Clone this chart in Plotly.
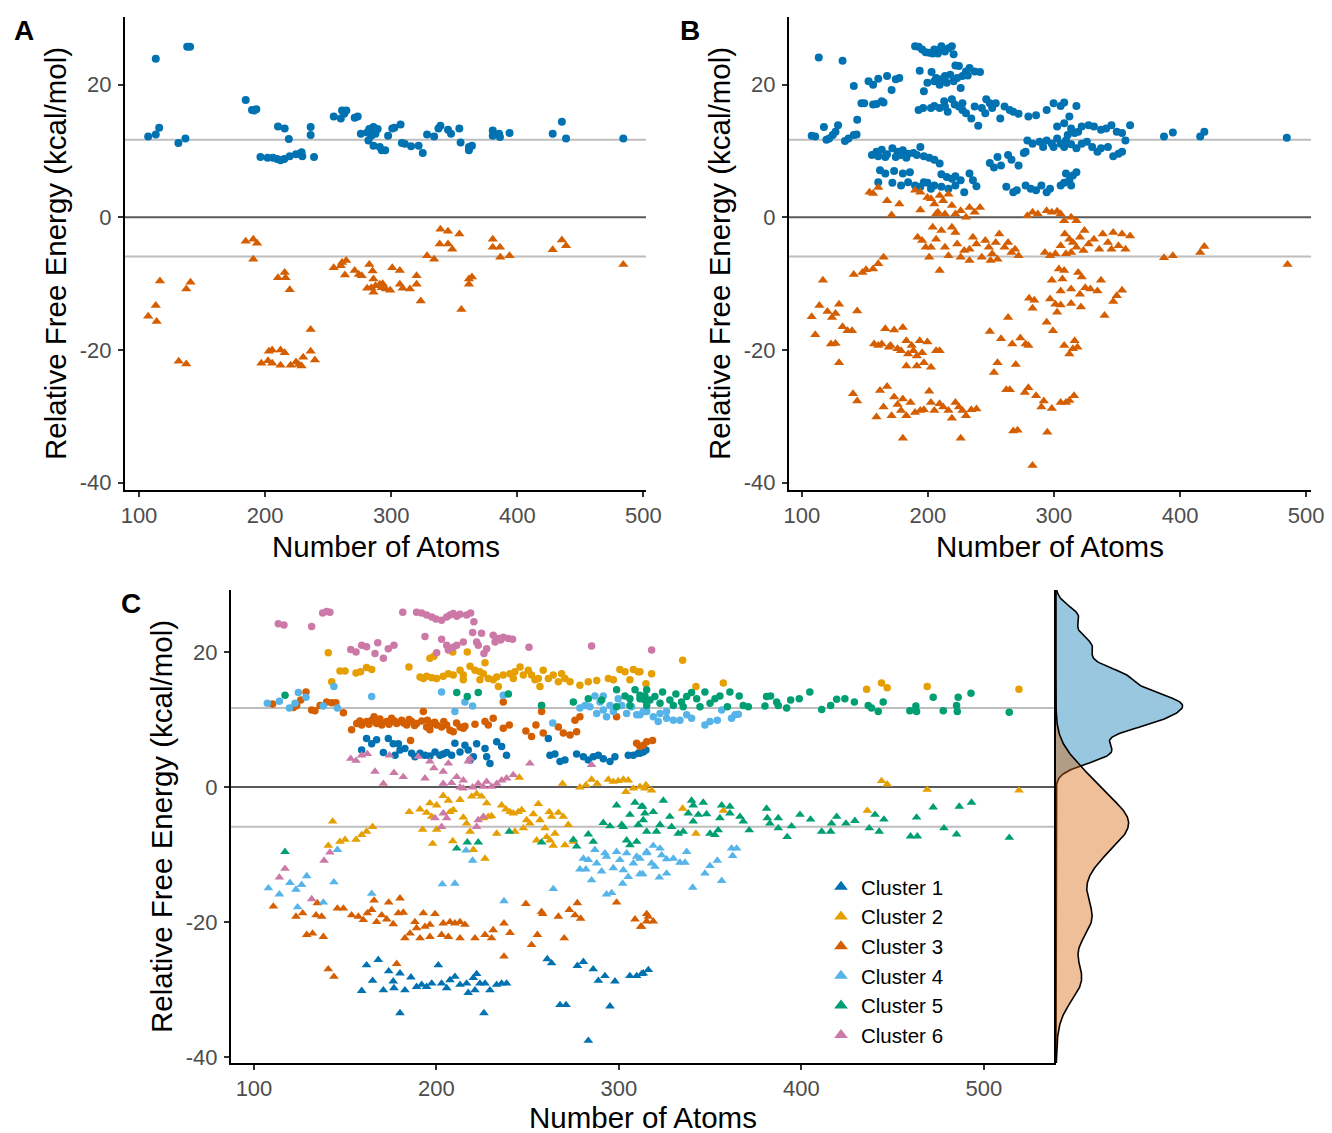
import numpy as np
import plotly.graph_objects as go

# ---------------- data ----------------
# Panel A: conformers (circles) and complexes (triangles)
A_CIRC_X = [107.3, 113.3, 116, 113.3, 131.2, 136.8, 138.2, 140.5, 184.6, 189.6, 191.3, 193, 196.3, 202, 206.2, 209.5,
            212.2, 215.2, 219.5, 224.5, 227.8, 229.5, 228.9, 238.8, 210.2, 215.5, 218.8, 236.1, 236.1, 254.4, 260, 261,
            264.4, 262.7, 271, 273.4, 275.9, 280.9, 282.6, 284.2, 285.9, 287.5, 289.2, 281.9, 285.9, 290.9, 292.5,
            295.2, 297.5, 300.8, 302.5, 307.4, 308.4, 310.7, 315.7, 321.7, 325, 328.4, 334, 337.4, 339, 345, 347.4,
            354, 355, 361.6, 361.6, 364, 380.5, 380.5, 385.5, 386.2, 393.8, 428, 435.3, 438.6, 484]
A_CIRC_Y = [12.2, 12.5, 13.5, 23.9, 11.2, 11.9, 25.7, 25.7, 17.7, 16.2, 16.1, 16.3, 9.1, 9.0, 9.0, 8.8,
            8.6, 8.8, 9.2, 9.5, 9.6, 9.2, 9.8, 9.1, 13.7, 13.4, 11.8, 13.6, 12.4, 15.2, 14.9, 16.1,
            16.1, 15.6, 15, 15.2, 12.6, 12.8, 13.3, 12.3, 13.6, 12.6, 13.3, 11.6, 10.8, 10.6, 10.1,
            10.1, 12.3, 13.4, 13.5, 14.0, 11.2, 11.1, 10.7, 10.8, 9.7, 12.5, 12.2, 13.4, 13.8, 13.2, 12.6,
            13.4, 11.3, 10.6, 10.1, 10.8, 13.1, 12.3, 12.6, 12.1, 12.7, 12.6, 14.4, 11.9, 11.9]
A_TRI_X = [107.3, 113.3, 114, 116.6, 137.5, 140.8, 131.5, 137.5, 184.6, 190.6, 193.6, 190.6, 210.2, 216.2, 215.5,
           219.5, 197, 202.3, 205.6, 203, 205.6, 212.2, 215.5, 212.2, 220.2, 224.5, 226.8, 228.9, 230.2, 236.1,
           236.1, 239.5, 254.4, 260, 261, 264.3, 263.3, 271, 274.3, 276.6, 282.6, 285.2, 285.9, 280.9, 284.2,
           287.5, 285.9, 290.9, 292.5, 295.8, 299.2, 293.2, 300.8, 306.8, 306.8, 309.1, 314.8, 320.1, 320.1,
           323.4, 328.4, 334, 339, 345, 354, 338.4, 345, 348.4, 355.6, 361.6, 361.6, 364, 380.5, 380.5, 386.2,
           386.5, 393.8, 428, 435.3, 438.6, 484]
A_TRI_Y = [-14.9, -13.3, -15.7, -9.6, -10.8, -9.8, -21.7, -22.1, -3.6, -3.3, -3.9, -6.3, -9.1, -9.1, -8.3,
           -10.9, -22, -21.6, -22, -20.2, -20, -20, -20.4, -22.3, -22.3, -21.8, -22.2, -22.4, -21.1, -20.2,
           -16.9, -21.5, -7.6, -7.3, -6.8, -6.5, -8.7, -8.0, -8.6, -8.8, -7.1, -8.1, -9.3, -10.7, -10.6,
           -10.3, -11.3, -10.1, -10.6, -10.8, -11.0, -10.0, -7.6, -8.0, -10.1, -10.7, -10.8, -8.8, -10.1,
           -12.6, -5.8, -6.3, -1.8, -2.1, -2.5, -4.0, -4.0, -4.8, -13.9, -10.1, -9.3, -9.0, -3.3, -4.5, -4.5,
           -6.0, -5.8, -4.9, -3.4, -4.3, -7.1]

# Panel B
B_CIRC = [
    (189.8, 25.8), (192.6, 25.7), (195.4, 25.3), (198.2, 24.9), (201, 24.8), (203.8, 24.7), (206.5, 24.9),
    (209.3, 25.3), (210.7, 25.8), (213.5, 25.0), (216.3, 25.5), (219, 25.8), (220.4, 24.6), (207.9, 24.7),
    (205.1, 25.3), (113.4, 24.1), (132.3, 23.6),
    (193.5, 22.1), (202.9, 21.9), (206.5, 21.0), (210.7, 20.8), (213.5, 21.3), (214.9, 20.3), (209.3, 20.0),
    (205.1, 20.5), (221.8, 22.9), (224.6, 22.8), (227.4, 21.3), (230.2, 22.0), (233, 22.5), (237.1, 22.0),
    (241.3, 21.9), (226, 19.5), (220.4, 20.5), (223.2, 21.0), (217.7, 21.5), (199.6, 20.3), (196.8, 19.0),
    (231.6, 21.4),
    (141.2, 19.8), (152.9, 20.5), (156.5, 20.0), (160.6, 20.9), (167.6, 21.3), (171.2, 19.2), (174.5, 20.8),
    (177.3, 21.0), (147.3, 17.2), (149.5, 17.2), (156.5, 17.0), (159.2, 17.1), (163.4, 17.5), (164.8, 17.3),
    (192.6, 16.2), (196.2, 16.5), (205.1, 16.8), (209.3, 16.5), (212.9, 17.5), (215.7, 15.9), (219, 17.8),
    (221.3, 17.0), (224.6, 16.7), (227.4, 16.2), (230.2, 15.7), (234.4, 14.9), (237.1, 16.7), (239.9, 13.8),
    (242.7, 16.5), (246.3, 17.8), (249.1, 17.2), (251, 16.5), (253.8, 17.2), (257.4, 14.9), (260.8, 16.7),
    (264.9, 16.2), (267.7, 15.9), (271.9, 15.6), (279.7, 15.2), (285.8, 15.4), (213.5, 16.7), (202.4, 16.5),
    (227.4, 17.2), (245.5, 15.7),
    (107.8, 12.3), (110.6, 12.2), (117.5, 13.6), (119.5, 11.7), (121.7, 11.9), (124.5, 12.4), (126.7, 12.9),
    (128.7, 13.9), (134.2, 11.5), (137, 11.9), (141.2, 12.4), (143.4, 12.5), (143.9, 14.7),
    (294.2, 16.2), (299.7, 17.2), (305.3, 16.8), (308.1, 17.3), (312.2, 15.2), (317.8, 16.8), (302.5, 13.7),
    (308.1, 14.2), (313.6, 13.4), (319.2, 12.9), (322, 13.7), (327.5, 13.9), (331.7, 13.7), (337.3, 13.2),
    (341.4, 13.4), (345.6, 13.9), (349.8, 12.9), (354, 12.7), (356.7, 11.6), (360.4, 13.9), (278.9, 11.6),
    (283, 11.1), (288.6, 11.4), (294.2, 11.6), (298.3, 11.1), (302.5, 11.9), (305.3, 11.1), (309.5, 11.6),
    (313.6, 11.0), (317.8, 10.4), (322, 11.1), (326.1, 11.4), (330.3, 10.6), (334.5, 9.9), (337.3, 10.4),
    (342.8, 10.6), (347, 9.2), (351.2, 9.6), (354, 9.9), (277.5, 9.9), (308.1, 10.6), (310.9, 12.4),
    (316.4, 12.7), (299.7, 10.6), (291.4, 10.6),
    (387.3, 12.2), (394.3, 12.8), (416, 12.2), (419.3, 12.9), (484.7, 12.0),
    (155.6, 9.4), (159.2, 9.9), (163.4, 10.2), (167.6, 9.5), (171.8, 10.4), (175.9, 9.9), (180.1, 10.1),
    (184.3, 9.6), (188.5, 9.7), (194, 10.6), (196.8, 9.2), (201, 9.0), (205.1, 8.7), (209.3, 8.1),
    (166.2, 9.1), (174.5, 9.1), (178.7, 9.4), (182.9, 9.0), (160.6, 9.2), (191.2, 9.4),
    (162, 7.1), (166.2, 6.6), (173.2, 7.0), (180.1, 6.6), (185.7, 6.8), (160.6, 5.3), (171.8, 5.2),
    (178.7, 4.8), (184.3, 5.3), (189.8, 4.8), (194, 4.6), (199.6, 5.2), (205.1, 4.8), (210.7, 6.5),
    (214.9, 6.1), (219, 5.8), (221.8, 6.2), (226, 5.6), (228.8, 3.8), (233, 6.6), (235.7, 5.6), (238.5, 4.7),
    (210.7, 4.6), (216.3, 4.3), (221.8, 4.8), (202.4, 4.3), (196.8, 5.3),
    (249.1, 8.2), (252.4, 7.5), (255.2, 9.1), (258, 7.8), (263.6, 9.4), (266.3, 8.7), (271.9, 7.8), (276.1, 9.7),
    (262.2, 4.6), (267.7, 3.8), (270.5, 4.1), (277.5, 4.8), (281.6, 4.3), (285.8, 4.1), (290, 4.8),
    (294.2, 3.8), (296.9, 4.3), (305.3, 4.8), (308.1, 5.2), (312.2, 5.6), (315, 6.3), (317.8, 6.8),
    (309.5, 6.6), (313.6, 4.8),
]
B_TRI = [
    (153.7, 3.8), (156.5, 3.6), (160.6, 4.5), (167.6, 2.5), (177.3, 2.0), (171.2, 0.35), (194, 1.1),
    (189.8, 4.1), (194, 3.8), (199.6, 3.0), (205.1, 2.0), (209.3, 3.3), (212.1, 2.5), (207.9, 0.75),
    (213.5, 0.5), (219, 1.8), (221.8, 0.5), (226, 1.0), (230.2, 0), (233, 1.5), (237.1, 0.75), (241.3, 1.5),
    (216.3, 3.5), (202.4, 2.8), (206.5, 0.5),
    (278.9, 0.25), (283, 0.75), (287.2, 0.5), (294.2, 1.0), (298.3, 0.75), (302.5, 0.9), (305.3, 0.5),
    (308.1, -0.5), (313.6, 0), (317.8, -0.5), (324.2, -2.0),
    (191.8, -3.0), (195.4, -3.5), (198.2, -4.5), (201, -6.0), (203.8, -1.5), (206.5, -3.3), (210.7, -2.0),
    (213.5, -4.5), (216.3, -5.8), (219, -1.5), (221.8, -2.3), (223.2, -4.0), (226, -6.0), (228.8, -5.0),
    (233, -6.5), (235.7, -3.0), (238.5, -4.0), (242.7, -6.0), (245.5, -3.5), (248.3, -4.5), (251, -5.5),
    (253.8, -3.8), (256.6, -2.5), (260.8, -4.5), (263.6, -3.8), (266.3, -5.3), (269.1, -4.8), (271.9, -5.8),
    (209.3, -8.0), (202.4, -4.5), (233, -4.8), (249.7, -6.5), (255.2, -6.3),
    (292.8, -5.3), (296.9, -5.8), (301.1, -5.5), (305.3, -4.3), (308.6, -2.5), (312.2, -3.3), (315, -3.8),
    (317.8, -4.5), (320.6, -3.0), (323.4, -5.0), (327.5, -4.0), (331.7, -3.3), (335.9, -4.8), (338.7, -2.5),
    (342.8, -3.8), (347, -2.3), (351.2, -4.3), (354, -2.5), (356.7, -4.8), (360.4, -2.8), (309.5, -5.5),
    (313.6, -5.3), (345.6, -4.8),
    (387.3, -6.1), (394.3, -5.8), (416, -5.3), (419.3, -4.4), (485.3, -7.1),
    (141.2, -8.6), (148.1, -8.3), (150.9, -7.9), (156.5, -7.8), (160.6, -7.0), (164.8, -6.0),
    (280.3, -12.2), (284.4, -12.5), (283, -13.7), (296.9, -12.3), (301.1, -13.1), (305.3, -13.2),
    (302.5, -14.3), (294.2, -15.8), (299.2, -17.1), (303.9, -7.8), (308.1, -8.0), (306.7, -9.3),
    (313.6, -10.8), (319.2, -8.3), (322, -9.0), (320.6, -11.6), (324.8, -10.6), (328.9, -10.8),
    (334.5, -11.1), (337.3, -9.5), (313.6, -13.0), (321.4, -13.5), (347, -12.7), (349.8, -11.8),
    (354, -11.0), (340.1, -14.8), (298.3, -9.5), (305.3, -11.1),
    (116.7, -9.5), (107.8, -15.0), (113.9, -13.3), (120.3, -14.2), (123.9, -15.1), (126.7, -14.5),
    (129.5, -13.1), (132.3, -16.5), (136.2, -17.1), (139.8, -17.1), (143.9, -14.1), (110.6, -17.7),
    (123.1, -19.1), (126.7, -19.0), (129.5, -21.9),
    (157.3, -19.1), (160.6, -19.3), (163.4, -19.1), (166.2, -16.8), (169, -19.6), (173.2, -17.0),
    (175.9, -19.8), (180.1, -16.6), (178.7, -20.1), (182.9, -18.6), (184.3, -20.6), (188.5, -20.1),
    (191.2, -20.9), (193.5, -18.6), (195.4, -20.4), (199.6, -18.8), (202.4, -22.6), (206.5, -20.1),
    (209.3, -20.1), (196.8, -21.9), (191.2, -22.4), (182.9, -22.4), (187.1, -19.3), (170.4, -19.3),
    (249.1, -17.2), (258, -18.3), (263.6, -15.1), (266.9, -19.1), (273.3, -18.2), (277.5, -19.1),
    (279.7, -19.3), (255.2, -21.9), (252.4, -23.4), (269.7, -22.2), (308.1, -19.3), (312.2, -20.6),
    (316.4, -18.6), (318.6, -19.6), (315, -19.8),
    (140.6, -26.6), (143.9, -27.7), (162, -26.1), (167.6, -25.5), (164.8, -28.6), (159.2, -30.1),
    (171.2, -29.9), (173.2, -27.1), (175.9, -28.2), (180.1, -27.4), (178.7, -29.1), (182.9, -29.9),
    (186.2, -27.9), (189.8, -29.4), (194, -29.1), (196.8, -29.0), (201, -26.2), (202.4, -27.9),
    (205.1, -29.1), (209.3, -28.1), (212.1, -28.6), (216.3, -29.1), (219, -30.3), (221.8, -27.9),
    (224.6, -28.6), (227.4, -29.1), (230.2, -29.9), (234.4, -29.0), (238.5, -28.9), (180.1, -33.3),
    (226, -33.3),
    (262.2, -26.0), (265, -26.0), (276.9, -26.4), (279.7, -25.7), (285.8, -26.9), (290, -28.6),
    (291.9, -27.7), (298.3, -28.8), (305.3, -27.9), (309.5, -27.9), (312.2, -27.6), (315.9, -26.9),
    (267.7, -32.2), (271.1, -32.1), (294.7, -32.4), (283, -37.4),
]

# Panel C: six clusters, circles and triangles
C1_CIRC = [(161.7, 7.2), (164.5, 6.4), (167.2, 7.0), (170.9, 5.1), (173.6, 7.2), (176.3, 6.4), (179.1, 6.4),
           (177.3, 4.7), (180, 5.5), (182.7, 5.7), (186.4, 5.0), (188.2, 4.5), (191, 5.0), (193.7, 4.7),
           (196.4, 4.6), (199.2, 5.2), (201.9, 4.7), (203.7, 4.9), (205.6, 5.1), (208.3, 4.7), (210.1, 6.5),
           (212.9, 5.2), (215.6, 6.2), (217.4, 5.5), (222, 6.4), (220.2, 4.5), (218.4, 4.0), (226.6, 5.7),
           (227.5, 4.5), (233, 6.7), (235.7, 6.0), (238.4, 4.7), (159, 5.5), (261.3, 7.2), (262.2, 4.7),
           (264.9, 4.9), (267.7, 3.8), (270.4, 4.0), (276.8, 4.9), (280.5, 4.5), (283.2, 4.0), (285.9, 4.5),
           (288.7, 4.7), (291.4, 4.2), (295.1, 3.8), (297.8, 4.5), (305.1, 4.7), (307.9, 4.7), (310.6, 5.0),
           (313.3, 5.2), (229.3, 3.5), (311.5, 5.0), (314.8, 5.5)]
C2_CIRC = [(140.7, 19.9), (142.6, 15.6), (147.1, 17.2), (149.9, 17.2), (155.9, 16.9), (158.4, 17.1), (161.7, 17.7),
           (164.5, 17.4), (184.9, 17.8), (196.4, 19.1), (198.6, 19.4), (208.9, 20.0), (216.9, 20.0), (226.6, 18.4),
           (191, 16.3), (192.8, 16.1), (194.6, 16.4), (197.4, 16.2), (200.1, 16.1), (203.7, 16.4), (206.5, 16.8),
           (209.2, 16.6), (212.9, 17.3), (214.7, 16.6), (218.4, 17.9), (221.1, 17.3), (223.8, 17.1), (225.7, 16.8),
           (228.4, 16.1), (231.1, 15.9), (233.9, 14.9), (233, 16.3), (236.6, 16.6), (240.3, 16.8), (243, 17.1),
           (245.8, 17.8), (247.6, 16.6), (250.3, 17.3), (252.1, 16.6), (254, 15.9), (256.7, 14.9), (258.5, 17.3),
           (261.3, 16.1), (264, 16.6), (266.8, 15.6), (268.6, 16.8), (270.4, 16.1), (273.2, 15.6), (278.6, 15.1),
           (283.2, 15.6), (287.8, 15.8), (294.2, 16.1), (296.9, 15.9), (300.5, 17.4), (303.3, 17.1), (306, 15.9),
           (307.9, 17.4), (310.6, 17.1), (214.7, 15.9), (223.8, 15.9), (242.1, 16.1), (255.8, 16.1),
           (311.5, 17.1), (314.8, 15.3), (317.9, 16.8), (334.9, 18.8), (342.2, 14.9), (357.2, 15.4),
           (435.7, 14.5), (443.9, 15.4), (447, 14.7), (468.9, 14.9), (519.2, 14.5)]
C3_CIRC = [(110.2, 12.3), (121.6, 11.8), (123.4, 12.1), (125.6, 12.9), (128.5, 14.1), (131.6, 11.4), (133.4, 11.3),
           (136.2, 12.1), (139.8, 12.6), (142.6, 12.5), (144.9, 12.5), (149, 11.0), (153.5, 8.5), (156.3, 9.4),
           (159, 9.2), (161.7, 9.7), (164.5, 9.9), (165.8, 10.4), (167.2, 9.4), (170, 9.2), (172.7, 9.7),
           (175.4, 10.2), (178.2, 9.4), (180.9, 9.9), (183.7, 9.2), (186.4, 9.7), (189.1, 9.4), (191.9, 9.8),
           (192.8, 11.2), (194.6, 8.9), (197.4, 9.4), (200.1, 9.2), (202.8, 8.9), (205.6, 9.2), (207.4, 8.4),
           (209.2, 8.2), (212.9, 8.9), (215.6, 9.0), (221.1, 9.3), (226.6, 9.7), (228.4, 9.2), (231.1, 10.2),
           (236.6, 8.7), (239.9, 9.2), (249, 8.3), (252.1, 7.5), (254.5, 9.2), (258.5, 8.0), (266.8, 8.9),
           (269.5, 8.0), (273.2, 7.7), (276.8, 8.2), (275.9, 9.9), (278.6, 10.4), (298.7, 10.4), (309.7, 6.5),
           (313.3, 6.2), (236.6, 12.6), (257.6, 11.2), (257.6, 12.1), (185.8, 6.9), (196.4, 8.5), (214.7, 8.7),
           (315.2, 6.7), (318.4, 6.9), (311.5, 6.0), (158, 9.8), (163, 9.3), (169, 10.1), (174, 9.3), (177, 9.8),
           (182, 9.5), (185, 10.0), (188, 9.1), (195, 9.9), (199, 9.6), (204, 9.7), (211, 9.5)]
C4_CIRC = [(107.3, 12.4), (113.9, 12.7), (119.4, 11.7), (122.5, 12.4), (124.3, 14.0), (128.5, 13.3), (138, 12.0),
           (143.8, 14.9), (145.7, 11.7), (164.5, 13.4), (202.8, 14.1), (210.1, 11.2), (215.6, 12.6), (219.8, 12.0),
           (236.6, 13.6), (263.7, 9.5), (278.6, 11.7), (281.4, 12.1), (284.1, 11.9), (286.8, 13.5), (289.6, 12.6),
           (291.4, 11.4), (293.2, 10.4), (295.1, 12.1), (296.9, 11.2), (299.6, 13.1), (301.5, 12.1), (304.2, 10.9),
           (306.9, 11.9), (309.7, 10.7), (313.3, 11.2), (287.8, 10.9), (291.4, 13.5),
           (311.5, 10.7), (315.2, 11.2), (318.8, 10.4), (322.5, 10.9), (326.1, 10.2), (329.8, 9.9), (333.4, 9.9),
           (337.1, 10.7), (339.8, 10.2), (347.1, 9.2), (349.9, 9.7), (353.9, 9.9), (356.3, 11.4), (361.7, 10.2),
           (363.6, 10.7), (365.4, 10.8), (326.1, 11.2), (321.5, 9.7)]
C5_CIRC = [(117, 13.6), (211.1, 14.0), (216.9, 13.4), (222.9, 14.0), (239.4, 13.8), (257.6, 12.1), (275, 12.6),
           (283.2, 13.1), (290.5, 12.9), (298.7, 14.4), (303.3, 13.5), (306, 13.1), (308.8, 14.4), (311.5, 13.6),
           (314.2, 12.9), (315.2, 14.4), (298.7, 11.9), (306, 12.1),
           (311.5, 13.1), (314.2, 13.5), (317, 12.9), (319.7, 13.4), (323.9, 14.1), (327.9, 12.9), (331.2, 13.8),
           (334.3, 12.6), (337.1, 13.4), (339.8, 14.0), (342.6, 13.1), (347.1, 14.1), (349.9, 12.4), (352.6, 13.1),
           (355.3, 13.5), (359.4, 11.9), (360.8, 14.1), (365.9, 13.5), (368.1, 12.1), (370.9, 11.9), (380, 12.0),
           (380.9, 13.4), (383.1, 13.5), (386.4, 12.6), (387.3, 12.1), (391.9, 11.7), (394.1, 12.9), (398.8, 13.1),
           (404.6, 14.1), (411.1, 11.5), (416, 12.1), (419.3, 13.0), (423.8, 13.1), (429, 12.6), (436.6, 12.1),
           (438.4, 11.7), (442.1, 11.2), (444.8, 12.6), (459.4, 11.3), (462.7, 12.0), (463.1, 11.2), (472.2, 13.3),
           (477.7, 11.3), (485, 12.1), (485.4, 11.2), (485.9, 13.3), (492.9, 13.9), (513.9, 11.1), (315.2, 12.1),
           (322.5, 12.4), (329.8, 12.1), (344.4, 11.9), (335.2, 11.9)]
C6_CIRC = [(113.3, 24.2), (116.4, 24.0), (131.6, 23.8), (137.6, 25.8), (139.8, 26.0), (141.6, 25.9), (181.5, 25.9),
           (189.1, 25.9), (191.9, 25.8), (194.6, 25.5), (197.4, 25.2), (199.7, 24.9), (202.8, 24.7), (205.6, 25.2),
           (207.4, 25.5), (209.2, 25.7), (211.1, 25.3), (212.9, 25.6), (216.5, 25.5), (218.7, 25.8), (220.5, 24.5),
           (219.8, 22.9), (224.7, 22.8), (231.1, 22.5), (233.9, 22.0), (236.6, 22.2), (239.4, 22.0), (241.7, 21.9),
           (193.7, 22.3), (202.8, 21.9), (205.6, 21.0), (209.2, 20.7), (211.1, 21.0), (214.7, 21.5), (222, 21.5),
           (222.9, 21.0), (226, 19.8), (227.5, 20.5), (232.1, 21.5), (235.2, 21.8), (153, 20.4), (155.9, 20.0),
           (159, 21.0), (161.7, 20.8), (166.3, 19.8), (167.8, 21.4), (170.9, 19.1), (173.6, 20.5), (176.7, 21.0),
           (200.1, 19.9), (250.7, 20.7), (285, 20.9), (206.5, 20.3), (317.9, 20.3)]

C1_TRI = [(159, -30.2), (161.7, -26.4), (165, -28.7), (168.1, -25.6), (170.9, -30.1), (173.8, -27.3), (176.3, -28.8),
          (176.7, -29.8), (180, -27.6), (180, -33.5), (182.7, -30.1), (186, -28.2), (189.1, -29.6), (191.9, -29.3),
          (194.6, -29.6), (197.4, -29.1), (201, -26.4), (202.8, -29.1), (205.6, -29.8), (207.4, -28.6),
          (210.1, -28.1), (212.9, -29.3), (216.5, -29.1), (217.4, -30.5), (220.2, -28.3), (222, -27.7),
          (221.1, -30.1), (223.8, -29.1), (226.6, -29.1), (229.3, -30.1), (233, -29.3), (235.7, -29.1),
          (238.4, -29.1), (226, -33.5), (260.7, -25.5), (263.1, -26.1), (267.7, -32.3), (271, -32.3),
          (277.2, -26.5), (280.5, -25.9), (285.9, -27.0), (288.7, -28.7), (292.3, -28.0), (295.1, -32.5),
          (297.8, -28.8), (283.2, -37.6), (306, -28.0), (309.7, -28.0), (313.3, -27.6), (316.1, -27.1),
          (312.4, -27.7)]
C2_TRI = [(269.1, 0.5), (278.6, -0.05), (281.9, 0.3), (285, 1.1), (288.1, 0.5), (294.2, 1.1), (296.9, 0.8),
          (299.6, 0.9), (302.4, 1.1), (305.1, 1.0), (303.8, -0.7), (307.9, -0.2), (311.5, 0.05), (314.2, -0.2),
          (245.4, 1.4), (314.8, 0.3), (317.9, -0.5), (443.9, 0.9), (447, 0.4), (468.9, -0.4), (519.2, -0.5),
          (334.9, -3.2), (357.2, -3.5), (342.2, -6.9), (436.1, -3.5),
          (185.1, -3.7), (191, -3.3), (192.4, -6.3), (194.6, -3.8), (196.4, -2.4), (197.4, -4.4), (200.1, -2.7),
          (200.1, -6.3), (203.7, -1.3), (206.5, -2.0), (207.4, -3.7), (209.2, -3.4), (212.9, -1.9), (214.7, -4.5),
          (216.5, -5.4), (218.4, -6.6), (219.3, -1.4), (222, -1.0), (224.7, -1.4), (225.7, -4.6), (227.5, -2.4),
          (228.4, -4.4), (230.2, -4.3), (233, -6.9), (235.7, -2.7), (238.1, -3.3), (240.3, -3.7), (242.1, -3.9),
          (244.8, -3.7), (246.7, -3.4), (249.4, -4.9), (251.2, -5.4), (253.1, -4.0), (255.8, -2.5), (256.7, -4.9),
          (259.5, -6.1), (261.8, -3.7), (263.1, -4.4), (264.9, -6.9), (266.8, -3.8), (269.5, -4.4), (272.2, -5.6),
          (275, -8.1), (270.4, -8.6), (264, -8.7), (262.2, -7.9), (254.9, -7.9), (243, -6.6), (143.1, -5.1),
          (140.7, -8.7), (147.1, -8.1), (149.9, -7.8), (155.9, -7.8), (159, -7.1), (161.7, -6.6), (165, -5.9),
          (197.9, -8.4), (208.9, -8.0), (220.2, -9.3), (226.6, -10.6), (260.4, -7.4), (247.6, -6.1)]
C3_TRI = [(110.6, -17.7), (123, -19.2), (126.7, -18.7), (128.9, -21.9), (132.1, -21.7), (134.7, -17.2), (134, -19.0),
          (137.1, -19.2), (138, -22.2), (140.7, -27.0), (143.8, -28.1), (145.7, -18.0), (149, -18.0), (153.5, -19.0),
          (157.2, -19.2), (159.9, -19.7), (162.1, -18.7), (164.5, -18.2), (165.8, -16.8), (167.2, -20.0),
          (170, -19.0), (172.7, -19.6), (173.8, -17.1), (176.3, -20.3), (179.1, -18.7), (180, -16.5),
          (181.8, -18.6), (182.7, -22.4), (185.5, -21.7), (188.2, -20.0), (189.1, -20.9), (191, -22.4),
          (192.8, -18.7), (193.7, -20.7), (196.4, -20.4), (196.4, -22.2), (199.2, -18.8), (202.8, -21.9),
          (203.7, -20.2), (206.5, -22.2), (207.4, -20.0), (210.1, -20.2), (212.9, -20.0), (212.9, -22.4),
          (215.6, -20.4), (221.1, -22.4), (226.6, -21.9), (230.2, -22.4), (231.1, -21.2), (237, -20.2),
          (240.3, -21.6), (237, -25.1), (178.2, -26.2), (249, -17.3), (252.1, -23.4), (255.3, -21.9),
          (257.6, -18.5), (258.2, -18.8), (266.8, -19.2), (270, -22.4), (272.8, -18.2), (275.9, -19.0),
          (277.2, -17.2), (279, -19.5), (298.7, -17.1), (308.8, -19.6), (311.9, -20.7), (315.2, -18.8),
          (312.4, -20.7), (316.1, -19.2), (318.8, -19.9), (315.2, -19.9)]
C4_TRI = [(107.9, -15.0), (113.9, -15.9), (119.7, -14.2), (123, -15.2), (126.1, -14.5), (128.9, -13.2), (123.9, -17.8),
          (138, -17.1), (143.8, -14.1), (145.7, -9.3), (164.5, -15.8), (203.2, -14.4), (210.1, -14.3), (216.2, -9.4),
          (219.8, -10.9), (237, -16.9), (264, -15.1), (278.6, -12.2), (280.5, -10.6), (283.2, -10.8), (285, -13.8),
          (286.8, -9.3), (287.8, -11.3), (290.5, -12.5), (292.3, -9.8), (293.2, -15.9), (296, -15.7),
          (296.9, -12.0), (298.7, -9.6), (300.5, -10.8), (302.4, -12.3), (302, -14.3), (304.2, -9.8),
          (305.1, -13.3), (307.9, -11.3), (309.7, -10.3), (313, -12.9), (315.2, -9.6), (293.2, -10.3),
          (281.9, -12.2), (311.5, -10.6), (315.2, -9.8), (317.9, -11.3), (319.7, -11.8), (322.5, -9.1),
          (323.4, -10.1), (326.1, -10.7), (329.8, -10.6), (333.4, -11.2), (336.2, -11.2), (337.1, -9.6),
          (322.1, -13.4), (326.1, -12.8), (340.4, -14.9), (347.1, -12.8), (349.9, -11.7), (353.9, -10.9),
          (356.3, -13.9), (361.7, -9.1), (364.5, -9.1), (362.3, -10.2), (311.5, -12.9), (318.8, -8.7)]
C5_TRI = [(117, -9.6), (211.1, -9.1), (216.9, -8.2), (222.9, -8.2), (239.9, -6.6), (257.6, -8.2), (275, -7.8),
          (276.8, -8.8), (283.2, -7.0), (285.9, -8.1), (291.4, -5.3), (295.1, -5.8), (298.7, -2.7), (301.5, -5.6),
          (304.2, -7.9), (306, -4.1), (308.8, -2.3), (310.6, -5.6), (313, -2.9), (314.2, -3.9), (302.4, -5.9),
          (306, -8.6), (309.7, -8.1), (312.4, -2.9), (318.8, -3.7), (324.3, -2.0), (313.3, -4.9), (320.6, -6.6),
          (327.9, -4.4), (328.9, -5.9), (332.5, -6.9), (335.2, -6.6), (338, -3.9), (339.8, -2.0), (340.7, -2.7),
          (343.5, -4.1), (346.2, -2.3), (348, -4.0), (349.9, -6.9), (352.6, -7.1), (354.4, -6.4), (355.3, -4.6),
          (356.3, -2.7), (360.8, -2.9), (360.8, -3.9), (366.3, -4.4), (368.1, -5.1), (371.4, -6.4), (380.9, -3.2),
          (381.3, -4.6), (382.7, -5.4), (387.3, -4.6), (387.3, -6.1), (392.2, -7.4), (394.6, -5.8), (399.2, -4.1),
          (405, -4.8), (411.1, -6.6), (416, -6.6), (416.5, -5.4), (419.3, -4.4), (424.4, -5.4), (429.3, -5.0),
          (437.2, -6.1), (440.3, -4.1), (442.6, -6.6), (445.2, -4.8), (459.8, -7.3), (463.1, -4.5), (463.5, -7.3),
          (472.2, -3.0), (478.1, -6.1), (485, -7.0), (486.5, -2.9), (493.2, -2.3), (513.9, -7.5), (340.7, -5.1),
          (322.5, -5.6), (315.2, -6.6)]
C6_TRI = [(153, 4.2), (155.9, 3.9), (159, 4.7), (162.1, 4.9), (166.3, 2.3), (170.9, 0.5), (176.7, 2.1), (181.8, 1.5),
          (174.2, 4.7), (190, 4.5), (193.7, 1.3), (196.4, 3.8), (198.6, 2.8), (203.7, 2.3), (206.5, 3.5),
          (208.3, 0.6), (211.1, 1.5), (212.9, -0.05), (214.7, 1.0), (217.4, 3.8), (219.8, -0.05), (222.9, 0.5),
          (225.7, 0.05), (227.5, 0.8), (230.2, 0.05), (233, 0.5), (235.7, 1.0), (238.4, 1.3), (242.1, 1.8),
          (251.2, 3.5), (285, 3.3), (218.4, 4.2), (203.7, 0.5), (214.7, -0.2), (203.7, -3.9), (199.2, -4.6),
          (205.6, -4.6), (222, -5.9), (222.9, -4.9), (225.7, -4.4), (202.8, -5.9), (141.6, -9.7), (138.4, -10.9),
          (117, -12.1), (113.9, -13.4), (131.6, -16.6)]

CLUSTER_NAMES = ["Cluster 1", "Cluster 2", "Cluster 3", "Cluster 4", "Cluster 5", "Cluster 6"]
CLUSTER_COLORS = ["#0072B2", "#E69F00", "#D55E00", "#56B4E9", "#009E73", "#CC79A7"]
C_CIRCLES = [C1_CIRC, C2_CIRC, C3_CIRC, C4_CIRC, C5_CIRC, C6_CIRC]
C_TRIANGLES = [C1_TRI, C2_TRI, C3_TRI, C4_TRI, C5_TRI, C6_TRI]

ZERO_LINE = 0.0
REF_LINES = [11.7, -5.9]
X_TICKS = [100, 200, 300, 400, 500]
Y_TICKS = [-40, -20, 0, 20]
Y_TICK_TEXT = ["-40", "-20", "0", "20"]

# ---------------- layout helpers ----------------
W, H = 1332, 1133
FONT = "Liberation Sans, Arial, sans-serif"
BLUE, ORANGE = "#0072B2", "#D55E00"


def px_x(p):
    return p / W


def px_y(p):
    return 1 - p / H


def unzip(pts):
    return [p[0] for p in pts], [p[1] for p in pts]


fig = go.Figure()

CIRC_SIZE = 8
TRI_SIZE = 9


def add_points(x, y, axis, color, symbol, size, name=None, legend=False):
    fig.add_trace(go.Scatter(
        x=x, y=y, mode="markers", xaxis="x" + axis, yaxis="y" + axis,
        marker=dict(color=color, symbol=symbol, size=size, line=dict(width=0)),
        name=name, showlegend=legend, hoverinfo="skip"))


# Panel A
add_points(A_CIRC_X, A_CIRC_Y, "", BLUE, "circle", CIRC_SIZE)
add_points(A_TRI_X, A_TRI_Y, "", ORANGE, "triangle-up", TRI_SIZE)
# Panel B
bx, by = unzip(B_CIRC)
add_points(bx, by, "2", BLUE, "circle", CIRC_SIZE)
bx, by = unzip(B_TRI)
add_points(bx, by, "2", ORANGE, "triangle-up", TRI_SIZE)
# Panel C
for circ, col in zip(C_CIRCLES, CLUSTER_COLORS):
    cx, cy = unzip(circ)
    add_points(cx, cy, "3", col, "circle", 7.5)
for tri, col, nm in zip(C_TRIANGLES, CLUSTER_COLORS, CLUSTER_NAMES):
    tx, ty = unzip(tri)
    add_points(tx, ty, "3", col, "triangle-up", 8.5, name=nm, legend=True)

# Marginal densities of the panel C energies (Gaussian KDE, Silverman bandwidth)
Y3_RANGE = [-40.9, 29.2]


def kde(values, grid):
    v = np.asarray(values, dtype=float)
    n = len(v)
    q75, q25 = np.percentile(v, [75, 25])
    bw = 0.9 * min(v.std(ddof=1), (q75 - q25) / 1.34) * n ** -0.2
    z = (grid[:, None] - v[None, :]) / bw
    return np.exp(-0.5 * z ** 2).sum(axis=1) / (n * bw * np.sqrt(2 * np.pi))


grid = np.linspace(Y3_RANGE[0], Y3_RANGE[1], 600)
circ_y = [p[1] for c in C_CIRCLES for p in c]
tri_y = [p[1] for t in C_TRIANGLES for p in t]
dens_circ = kde(circ_y, grid)
dens_tri = kde(tri_y, grid)
dmax = max(dens_circ.max(), dens_tri.max())

for dens, fillc in [(dens_circ, "rgba(0,114,178,0.4)"), (dens_tri, "rgba(213,94,0,0.4)")]:
    fig.add_trace(go.Scatter(
        x=dens, y=grid, mode="lines", xaxis="x4", yaxis="y4",
        line=dict(color="black", width=1.6), fill="tozerox", fillcolor=fillc,
        showlegend=False, hoverinfo="skip"))

# ---------------- axes ----------------
tick_font = dict(family=FONT, size=22, color="#4D4D4D")
axis_common = dict(showline=True, linecolor="black", linewidth=2, ticks="outside", ticklen=5,
                   tickwidth=1.5, tickcolor="#333333", showgrid=False, zeroline=False,
                   tickfont=tick_font)
x_ticks = dict(tickvals=X_TICKS, ticktext=[str(v) for v in X_TICKS], ticklabelstandoff=0)
y_ticks = dict(tickvals=Y_TICKS, ticktext=Y_TICK_TEXT, ticklabelstandoff=2)

A_DOM_X = [px_x(125), px_x(646)]
B_DOM_X = [px_x(789), px_x(1311)]
AB_DOM_Y = [px_y(490), px_y(17)]
C_DOM_X = [px_x(231), px_x(1056)]
C_DOM_Y = [px_y(1063), px_y(590)]
D_DOM_X = [px_x(1056), px_x(1194)]

fig.update_layout(
    width=W, height=H, autosize=False,
    margin=dict(l=0, r=0, t=0, b=0, pad=0, autoexpand=False),
    paper_bgcolor="white", plot_bgcolor="rgba(0,0,0,0)",
    font=dict(family=FONT),
    xaxis=dict(domain=A_DOM_X, range=[88.9, 502], anchor="y", **x_ticks, **axis_common),
    yaxis=dict(domain=AB_DOM_Y, range=[-41.1, 30.2], anchor="x", **y_ticks, **axis_common),
    xaxis2=dict(domain=B_DOM_X, range=[89.8, 503.9], anchor="y2", **x_ticks, **axis_common),
    yaxis2=dict(domain=AB_DOM_Y, range=[-41.1, 30.2], anchor="x2", **y_ticks, **axis_common),
    xaxis3=dict(domain=C_DOM_X, range=[87.4, 539.5], anchor="y3", **x_ticks, **axis_common),
    yaxis3=dict(domain=C_DOM_Y, range=Y3_RANGE, anchor="x3", **y_ticks, **axis_common),
    xaxis4=dict(domain=D_DOM_X, range=[0, dmax * 1.09], anchor="y4", visible=False),
    yaxis4=dict(domain=C_DOM_Y, range=Y3_RANGE, anchor="x4", showline=True, linecolor="black",
                linewidth=2, showticklabels=False, ticks="", showgrid=False, zeroline=False),
    legend=dict(x=px_x(821), y=px_y(867), xanchor="left", yanchor="top",
                font=dict(family=FONT, size=20.5, color="black"),
                bgcolor="rgba(0,0,0,0)", tracegroupgap=0, itemsizing="constant"),
)

# Reference lines
shapes = []
for ax in ["", "2", "3"]:
    for yv, col in [(REF_LINES[0], "#BEBEBE"), (REF_LINES[1], "#BEBEBE"), (ZERO_LINE, "#5A5A5A")]:
        shapes.append(dict(type="line", xref=("x" + ax + " domain"), yref="y" + ax,
                           x0=0, x1=1, y0=yv, y1=yv, layer="below",
                           line=dict(color=col, width=2)))
fig.update_layout(shapes=shapes)

# Titles and panel tags
title_font = dict(family=FONT, size=29.5, color="black")
ann = []
for xc, yc in [(55, 254), (719, 254), (161, 827)]:
    ann.append(dict(text="Relative Free Energy (kcal/mol)", x=px_x(xc), y=px_y(yc), xref="paper", yref="paper",
                    showarrow=False, textangle=-90, font=title_font, xanchor="center", yanchor="middle"))
for xc, yc in [(386, 546), (1050, 546), (643, 1117)]:
    ann.append(dict(text="Number of Atoms", x=px_x(xc), y=px_y(yc), xref="paper", yref="paper",
                    showarrow=False, font=title_font, xanchor="center", yanchor="middle"))
tag_font = dict(family=FONT, size=28, color="black")
for tag, xc, yc in [("A", 24, 30), ("B", 690, 30), ("C", 131, 603)]:
    ann.append(dict(text="<b>" + tag + "</b>", x=px_x(xc), y=px_y(yc), xref="paper", yref="paper",
                    showarrow=False, font=tag_font, xanchor="center", yanchor="middle"))
fig.update_layout(annotations=ann)

fig.write_html("out.html")
